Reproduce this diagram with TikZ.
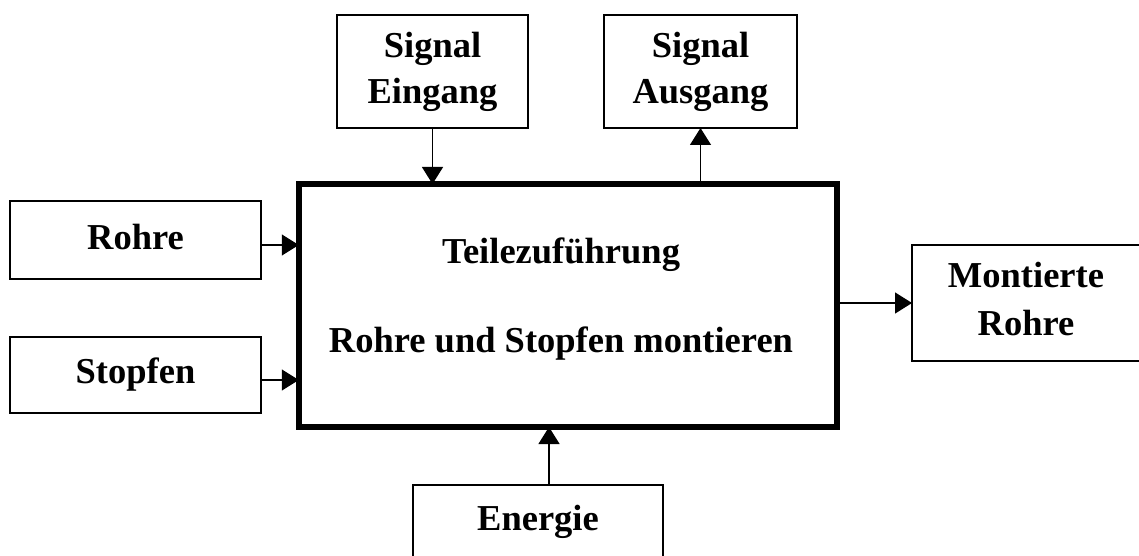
\documentclass[tikz,border=0pt]{standalone}
\usepackage{fontspec}
\setmainfont{Liberation Serif}
\usetikzlibrary{arrows.meta}
\begin{document}
\begin{tikzpicture}[x=1pt,y=-1pt,
  box/.style={draw, line width=1.3pt, inner sep=0pt, outer sep=0pt, align=center,
    font=\fontsize{36.5}{46}\selectfont\bfseries},
  mainbox/.style={draw, line width=5.5pt, inner sep=0pt, outer sep=0pt},
  lbl/.style={inner sep=0pt, font=\fontsize{36.5}{46}\selectfont\bfseries},
  conn/.style={line width=1.3pt, -{Triangle[length=17pt,width=21pt]}}]
\useasboundingbox (0,0) rectangle (1139,556);
\clip (0,0) rectangle (1139,556);
\fill[white] (0,0) rectangle (1139,556);
% main box
\node[mainbox, minimum width=538pt, minimum height=243pt] (main) at (567.75,305.5) {};
\node[lbl, anchor=base] (t1) at (561,263) {Teilezuführung};
\node[lbl, anchor=base] (t2) at (561,352) {Rohre und Stopfen montieren};
% boxes
\node[box, minimum width=191pt, minimum height=113pt] (eingang) at (432.5,71.5) {Signal\\Eingang};
\node[box, minimum width=193pt, minimum height=113pt] (ausgang) at (700.5,71.5) {Signal\\Ausgang};
\node[box, minimum width=251pt, minimum height=78pt] (rohre) at (135.5,240) {};
\node[lbl, anchor=base] (rohretext) at (135.5,249) {Rohre};
\node[box, minimum width=251pt, minimum height=76pt] (stopfen) at (135.5,375) {};
\node[lbl, anchor=base] (stopfentext) at (135.5,383) {Stopfen};
\node[box, minimum width=233pt, minimum height=116pt] (montierte) at (1028.5,303) {};
\node[lbl, anchor=base] (mont1) at (1026,287) {Montierte};
\node[lbl, anchor=base] (mont2) at (1026,335) {Rohre};
\node[box, minimum width=250pt, minimum height=100pt, anchor=north] (energie) at (538,485) {};
\node[lbl, anchor=base] (energietext) at (538,530) {Energie};
% connectors
\draw[conn] (eingang.south) -- (eingang.south |- main.north);
\draw[conn] (ausgang.south |- main.north) -- (ausgang.south);
\draw[conn] ([yshift=-5pt]rohre.east) -- ([yshift=-5pt]rohre.east -| main.west);
\draw[conn] ([yshift=-5pt]stopfen.east) -- ([yshift=-5pt]stopfen.east -| main.west);
\draw[conn] (main.east |- montierte.west) -- (montierte.west);
\draw[conn] ([xshift=11pt]energie.north) -- ([xshift=11pt]energie.north |- main.south);
\end{tikzpicture}
\end{document}
